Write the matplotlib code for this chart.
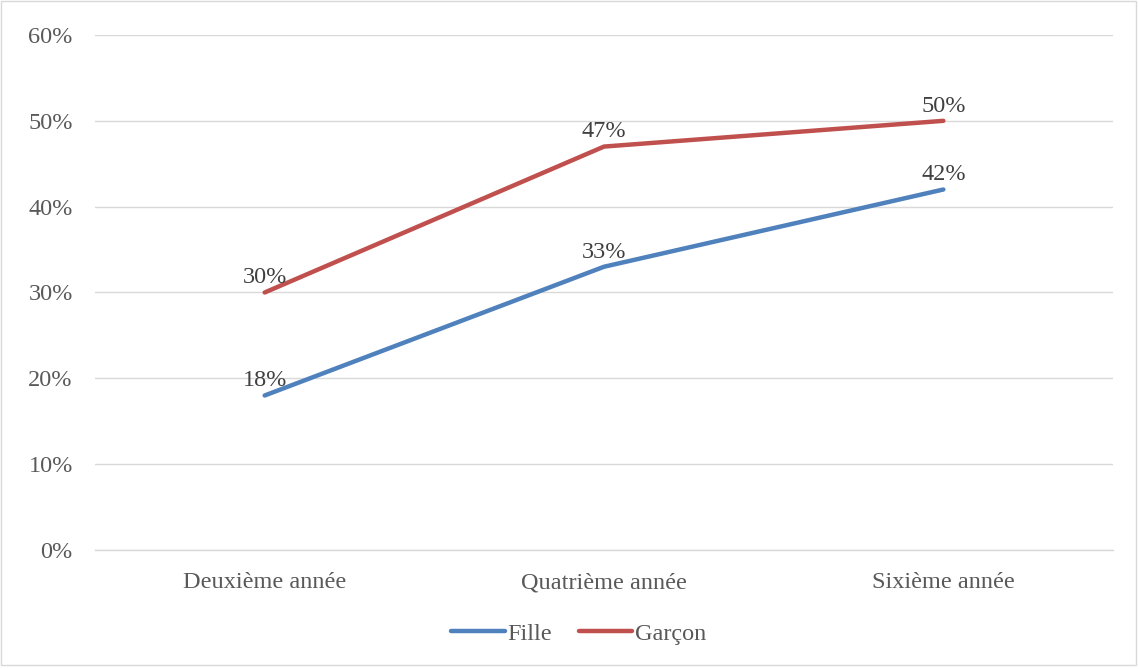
import matplotlib.pyplot as plt
from matplotlib.patches import Rectangle

categories = ['Deuxième année', 'Quatrième année', 'Sixième année']
fille = [18, 33, 42]
garcon = [30, 47, 50]

plt.rcParams['font.family'] = ['Liberation Serif', 'DejaVu Serif']

fig = plt.figure(figsize=(11.39, 6.69), dpi=100)
ax = fig.add_axes([0.0834, 0.1779, 0.8938, 0.7698])

x = range(len(categories))
ax.plot(x, fille, color='#4F81BD', linewidth=3.2, solid_capstyle='round', label='Fille')
ax.plot(x, garcon, color='#C0504D', linewidth=3.2, solid_capstyle='round', label='Garçon')

for xi, v in zip(x, fille):
    ax.annotate(f'{v}%', (xi, v), xytext=(0, 3), textcoords='offset points',
                ha='center', va='bottom', fontsize=17.5, color='#404040')
for xi, v in zip(x, garcon):
    ax.annotate(f'{v}%', (xi, v), xytext=(0, 3), textcoords='offset points',
                ha='center', va='bottom', fontsize=17.5, color='#404040')

ax.set_xlim(-0.5, 2.5)
ax.set_ylim(0, 60)
ax.set_yticks(range(0, 61, 10))
ax.set_yticklabels([f'{t}%' for t in range(0, 61, 10)])
ax.set_xticks(list(x))
ax.set_xticklabels(categories)
ax.tick_params(axis='both', length=0, labelsize=17.5, colors='#595959')
ax.tick_params(axis='y', pad=16)
ax.tick_params(axis='x', pad=16)
ax.grid(axis='y', color='#D9D9D9', linewidth=1)
ax.axhline(0, color='#D9D9D9', linewidth=1, zorder=0, clip_on=False)
ax.set_axisbelow(True)
for s in ax.spines.values():
    s.set_visible(False)

fig.legend(loc='center', bbox_to_anchor=(0.508, 0.053), ncol=2, frameon=False,
           fontsize=17.5, handlelength=2.2, handletextpad=0.1, columnspacing=1.1,
           labelcolor='#595959')

fig.patches.append(Rectangle((0.001, 0.006), 0.996, 0.992, transform=fig.transFigure,
                             fill=False, edgecolor='#D9D9D9', linewidth=1))

fig.savefig('out.png', dpi=100)
